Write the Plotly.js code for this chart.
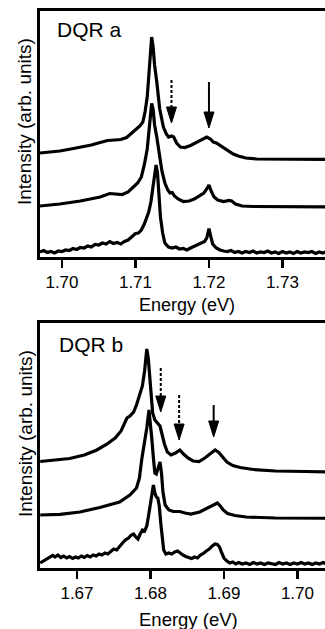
<!DOCTYPE html>
<html>
<head>
<meta charset="utf-8">
<script src="https://cdn.plot.ly/plotly-3.0.1.min.js"></script>
<style>
html,body{margin:0;padding:0;background:#fff;overflow:hidden;width:325px;height:629px;}
#chart{width:335px;height:629px;}
</style>
</head>
<body>
<div id="chart"></div>
<script>
// ---------- DQR a (top panel) ----------
const energyA1 = [1.6970,1.6985,1.6997,1.7012,1.7025,1.7040,1.7052,1.7062,1.7072,1.7080,1.7088,1.7095,1.7100,1.7106,1.7110,1.7113,1.7116,1.7119,1.7121,1.7122,1.7124,1.7126,1.7129,1.7133,1.7138,1.7142,1.7145,1.7149,1.7152,1.7156,1.7161,1.7167,1.7175,1.7182,1.7190,1.7197,1.7202,1.7206,1.7210,1.7214,1.7220,1.7226,1.7233,1.7240,1.7250,1.7265,1.7290,1.7320,1.7350,1.7372];
const intensityA1 = [104,105,106,108,109.5,112,114.5,116.5,117,117.5,119.5,124,128,131,135,145,160,190,212,220,210,192,175,148,130,123,120,121,120,114,110,109.5,111.5,114,117.5,120,118,115,114,112,109,106,103,101,99,98,98,97.5,97.5,97.5];

const energyA2 = [1.6970,1.6985,1.6997,1.7025,1.7052,1.7065,1.7075,1.7082,1.7090,1.7098,1.7103,1.7108,1.7112,1.7116,1.7119,1.7121,1.7122,1.7124,1.7126,1.7129,1.7133,1.7136,1.7140,1.7144,1.7147,1.7150,1.7153,1.7158,1.7165,1.7173,1.7180,1.7187,1.7193,1.7197,1.7200,1.7203,1.7207,1.7212,1.7220,1.7227,1.7231,1.7236,1.7245,1.7260,1.7300,1.7372];
const intensityA2 = [51,52,53,56,60,63.5,63,62.5,65,70,74,80,92,108,128,145,153.5,148,132,120,100,86,74,67,64,64.5,61,58,55.5,56,58,61,64,68,72,66,60,57,55.5,56.5,56,53,51,50.5,50.3,50];

const energyA3 = [1.6970,1.6975,1.6980,1.6985,1.6990,1.6995,1.7000,1.7005,1.7010,1.7015,1.7020,1.7025,1.7030,1.7035,1.7040,1.7045,1.7050,1.7055,1.7060,1.7065,1.7070,1.7075,1.7080,1.7085,1.7090,1.7095,1.7100,1.7104,1.7108,1.7112,1.7115,1.7118,1.7121,1.7124,1.7126,1.7128,1.7130,1.7132,1.7134,1.7137,1.7140,1.7145,1.7150,1.7155,1.7160,1.7165,1.7170,1.7175,1.7180,1.7185,1.7190,1.7194,1.7197,1.7199,1.7200,1.7202,1.7205,1.7210,1.7215,1.7220,1.7225,1.7230,1.7235,1.7240,1.7245,1.7250,1.7255,1.7260,1.7265,1.7270,1.7275,1.7280,1.7285,1.7290,1.7295,1.7300,1.7305,1.7310,1.7315,1.7320,1.7325,1.7330,1.7335,1.7340,1.7345,1.7350,1.7355,1.7360,1.7365,1.7372];
const intensityA3 = [5,6.5,4.5,5.5,4,6,5.5,7,6.5,8.5,7.5,9.5,9,11,10,12.5,12,14,13,15.5,13.5,14.5,13,15.5,17,20,23.5,24,27,33,38,45,55,72,85,92,84,60,40,24,14,10,9,10,8,8.5,7,9,10.5,12,14,15.5,19,24,28.5,22,13,9,7,6,5.5,6.5,4.5,5.5,4,5.5,4.5,6,4,5,4.5,6,4,5,3.5,5.5,4,5,3.5,5.5,4,5,4.5,5.5,3.5,5,4,5.5,4,5];

const ticksA = [1.70, 1.71, 1.72, 1.73];
const tickTextA = ['1.70', '1.71', '1.72', '1.73'];
const arrowEnergyA = [1.7149, 1.7200];
const arrowTipA = [134, 129];
const arrowTopA = [177, 175];
const arrowDashedA = [true, false];

// ---------- DQR b (bottom panel) ----------
const energyB1 = [1.6650,1.6668,1.6690,1.6710,1.6727,1.6740,1.6752,1.6760,1.6765,1.6768,1.6772,1.6777,1.6781,1.6785,1.6789,1.6792,1.6795,1.6797,1.6799,1.6801,1.6803,1.6806,1.6810,1.6813,1.6816,1.6819,1.6823,1.6828,1.6834,1.6840,1.6845,1.6851,1.6858,1.6866,1.6874,1.6882,1.6888,1.6893,1.6898,1.6904,1.6912,1.6922,1.6940,1.6970,1.7010,1.7052];
const intensityB1 = [106.5,107.5,109.5,113,118,123.5,130,137,145,150,152,156,163,172,182,197,219,210,190,170,155,148,145,142,133,124,116,113,115,118,114,110,107,106.5,110,115,118,115.5,111,106,102.5,100.5,98.5,97,96.5,96];

const energyB2 = [1.6650,1.6677,1.6704,1.6731,1.6758,1.6772,1.6781,1.6785,1.6788,1.6792,1.6795,1.6798,1.6800,1.6802,1.6804,1.6806,1.6808,1.6811,1.6813,1.6815,1.6817,1.6820,1.6825,1.6831,1.6840,1.6847,1.6855,1.6867,1.6880,1.6887,1.6891,1.6895,1.6899,1.6905,1.6915,1.6930,1.6970,1.7052];
const intensityB2 = [53,53.7,56,60.5,66,73,80,90,108,125,140,158,145,128,110,95,94,100,106,95,76,63,58,56.5,56.5,55,54,56,61,64,65,62,58,54.5,52.5,51,50,49.7];

const energyB3 = [1.6650,1.6655,1.6659,1.6663,1.6667,1.6670,1.6674,1.6678,1.6682,1.6686,1.6690,1.6694,1.6698,1.6702,1.6706,1.6710,1.6714,1.6718,1.6722,1.6726,1.6730,1.6734,1.6738,1.6742,1.6746,1.6750,1.6754,1.6758,1.6762,1.6766,1.6770,1.6774,1.6777,1.6780,1.6783,1.6786,1.6789,1.6792,1.6795,1.6798,1.6800,1.6802,1.6804,1.6806,1.6808,1.6810,1.6812,1.6814,1.6816,1.6818,1.6821,1.6825,1.6829,1.6833,1.6837,1.6840,1.6844,1.6848,1.6852,1.6856,1.6860,1.6864,1.6868,1.6872,1.6876,1.6880,1.6884,1.6888,1.6891,1.6894,1.6897,1.6900,1.6904,1.6908,1.6912,1.6916,1.6920,1.6925,1.6930,1.6935,1.6940,1.6945,1.6950,1.6955,1.6960,1.6965,1.6970,1.6975,1.6980,1.6985,1.6990,1.6995,1.7000,1.7005,1.7010,1.7015,1.7020,1.7025,1.7030,1.7035,1.7040,1.7045,1.7052];
const intensityB3 = [5,7,8.5,10,12.5,11,13,10.5,12,10,11.5,9.5,11,10,12,10.5,12.5,11,13,12,14,13,15,14,17,19,18,22,25,28,30,33,34,31,29,34,38,37,42,55,65,78,83,75,71,70,62,45,28,18,14,15,14,16,17,15,13,11.5,10.5,9.5,11,10,13,14.5,17,19,22,24,23.5,21,15,10,7,5,6,4,5.5,4,5,3.5,5.5,4,5,3.5,5,4.5,3.5,5.5,4,5,3.5,5,4,5.5,4,5,3.5,5,4,5.5,4,5,4.5];

const ticksB = [1.67, 1.68, 1.69, 1.70];
const tickTextB = ['1.67', '1.68', '1.69', '1.70'];
const arrowEnergyB = [1.6814, 1.6839, 1.6886];
const arrowTipB = [156, 128, 131];
const arrowTopB = [200, 173, 163];
const arrowDashedB = [true, true, false];

// ---------- drawing ----------
const W = 335, H = 629;
const FONT = 'Liberation Sans, Arial, Helvetica, sans-serif';
const pxPerEV = 7350;
const lineStyle = {color: '#000', width: 3.2};

function curve(x, y, xa, ya) {
  return {x: x, y: y, xaxis: xa, yaxis: ya, type: 'scatter', mode: 'lines',
          line: lineStyle, hoverinfo: 'skip'};
}

const traces = [
  curve(energyA1, intensityA1, 'x', 'y'),
  curve(energyA2, intensityA2, 'x', 'y'),
  curve(energyA3, intensityA3, 'x', 'y'),
  curve(energyB1, intensityB1, 'x2', 'y2'),
  curve(energyB2, intensityB2, 'x2', 'y2'),
  curve(energyB3, intensityB3, 'x2', 'y2')
];

function arrows(E, tip, top, dashed, xr, yr) {
  const out = [];
  const hw = 5 / pxPerEV, hh = 16;
  for (let i = 0; i < E.length; i++) {
    out.push({type: 'line', xref: xr, yref: yr, x0: E[i], x1: E[i], y0: top[i], y1: tip[i] + hh,
              line: {color: '#000', width: 2, dash: dashed[i] ? '3px,2px' : 'solid'}});
    out.push({type: 'path', xref: xr, yref: yr,
              path: 'M ' + (E[i] - hw) + ',' + (tip[i] + hh) + ' L ' + (E[i] + hw) + ',' + (tip[i] + hh) + ' L ' + E[i] + ',' + tip[i] + ' Z',
              fillcolor: '#000', line: {color: '#000', width: 1}});
  }
  return out;
}

function xAxis(range, tv, tt, anchor) {
  return {
    domain: [40 / W, 1], anchor: anchor, range: range,
    tickmode: 'array', tickvals: tv, ticktext: tt,
    ticks: 'outside', ticklen: 8, tickwidth: 2.5, tickcolor: '#000',
    ticklabelstandoff: 0,
    tickfont: {family: FONT, size: 17, color: '#000'},
    showline: true, linewidth: 3, linecolor: '#000', mirror: true,
    showgrid: false, zeroline: false, fixedrange: true
  };
}
function yAxis(domPx, range, anchor) {
  return {
    domain: [1 - domPx[1] / H, 1 - domPx[0] / H], anchor: anchor, range: range,
    showticklabels: false, ticks: '',
    showline: true, linewidth: 3, linecolor: '#000', mirror: true,
    showgrid: false, zeroline: false, fixedrange: true
  };
}

function label(text, xpx, ypx, xanchor, size, angle) {
  return {text: text, xref: 'paper', yref: 'paper', x: xpx / W, y: 1 - ypx / H,
          xanchor: xanchor, yanchor: 'middle', textangle: angle || 0, showarrow: false,
          font: {family: FONT, size: size, color: '#000'}};
}

const layout = {
  width: W, height: H,
  margin: {l: 0, r: 0, t: 0, b: 0},
  paper_bgcolor: '#fff', plot_bgcolor: '#fff',
  showlegend: false,
  font: {family: FONT, color: '#000'},
  xaxis: xAxis([1.69701, 1.73715], ticksA, tickTextA, 'y'),
  yaxis: yAxis([11, 257], [0, 246], 'x'),
  xaxis2: xAxis([1.66497, 1.70511], ticksB, tickTextB, 'y2'),
  yaxis2: yAxis([323, 568], [0, 245], 'x2'),
  shapes: arrows(arrowEnergyA, arrowTipA, arrowTopA, arrowDashedA, 'x', 'y')
          .concat(arrows(arrowEnergyB, arrowTipB, arrowTopB, arrowDashedB, 'x2', 'y2')),
  annotations: [
    label('DQR a', 55, 30, 'left', 21),
    label('DQR b', 57, 344, 'left', 21),
    label('Intensity (arb. units)', 25, 122, 'center', 19, -90),
    label('Intensity (arb. units)', 25, 434, 'center', 19, -90),
    label('Energy (eV)', 187, 305, 'center', 18),
    label('Energy (eV)', 188, 619, 'center', 18.5)
  ]
};

Plotly.newPlot('chart', traces, layout, {displayModeBar: false, staticPlot: true});
</script>
</body>
</html>
